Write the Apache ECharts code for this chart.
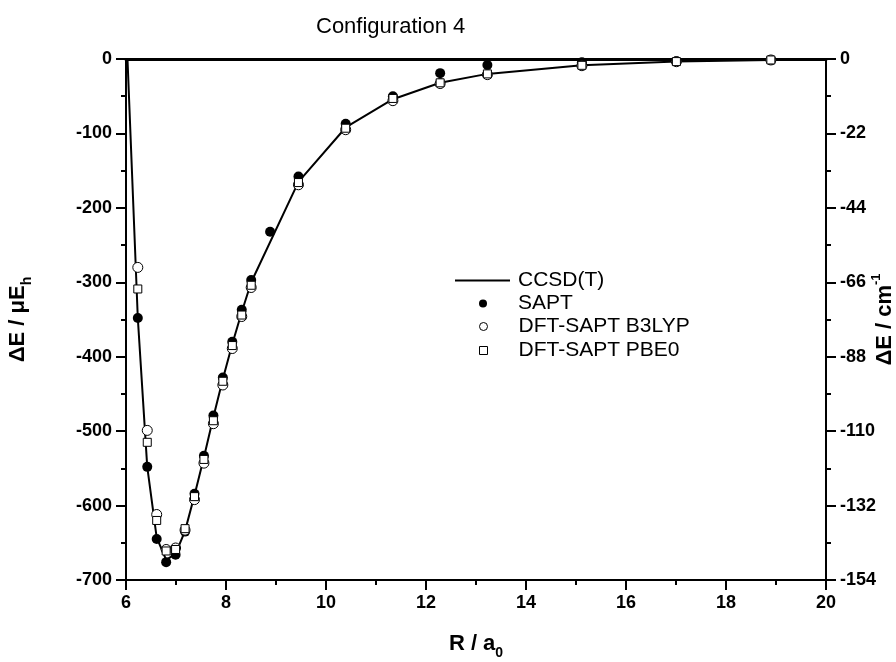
<!DOCTYPE html>
<html>
<head>
<meta charset="utf-8">
<script src="https://cdn.jsdelivr.net/npm/echarts@6/dist/echarts.min.js"></script>
<style>html,body{margin:0;padding:0;background:#fff}#c{width:896px;height:662px}</style>
</head>
<body>
<div id="c"></div>
<script>
// Distances R / a0
const rLine = [6.0, 6.236, 6.425, 6.614, 6.803, 6.992, 7.181, 7.370, 7.559, 7.748, 7.937, 8.126, 8.315, 8.504, 9.449, 10.394, 11.338, 12.283, 13.228, 15.118, 17.008, 18.897, 20.0];
const ccsdt = [50, -348, -548, -643, -673, -665, -634, -586, -535, -481, -430, -383, -340, -300, -165, -92, -54, -32, -20, -8.5, -3.5, -1.5, -0.8];

const rSapt = [6.236, 6.425, 6.614, 6.803, 6.992, 7.181, 7.370, 7.559, 7.748, 7.937, 8.126, 8.315, 8.504, 8.882, 9.449, 10.394, 11.338, 12.283, 13.228, 15.118, 17.008, 18.897];
const sapt = [-348, -548, -645, -676, -666, -635, -584, -533, -479, -428, -380, -337, -297, -232, -158, -87, -50, -19, -8, -4.5, -3, -1.5];

const rDft = [6.236, 6.425, 6.614, 6.803, 6.992, 7.181, 7.370, 7.559, 7.748, 7.937, 8.126, 8.315, 8.504, 9.449, 10.394, 11.338, 12.283, 13.228, 15.118, 17.008, 18.897];
const b3lyp = [-280, -499, -612, -659, -657, -633, -592, -543, -490, -438, -389, -346, -307, -169, -95, -56, -33, -21, -9, -3.6, -1.3];
const pbe0 = [-309, -515, -620, -661, -659, -631, -588, -538, -486, -433, -385, -344, -304, -166, -93, -53, -32, -20, -8.5, -3.5, -1.3];

const seriesNames = ['CCSD(T)', 'SAPT', 'DFT-SAPT B3LYP', 'DFT-SAPT PBE0'];
const titleText = 'Configuration 4';

function pairs(xs, ys) { return xs.map((x, i) => [x, ys[i]]); }

const FF = '"Liberation Sans", Arial, sans-serif';
const axisLineStyle = { color: '#000', width: 2 };
const tickStyle = { color: '#000', width: 2 };
const labelStyle = { fontFamily: FF, fontSize: 18, fontWeight: 'bold', color: '#000', margin: 14 };

const chart = echarts.init(document.getElementById('c'), null, { renderer: 'canvas' });

function legendFor(name, left, top, w, h, padLeft, icon, itemStyle) {
  const d = { name: name, icon: icon };
  if (itemStyle) d.itemStyle = itemStyle;
  return {
    data: [d], left: left, top: top, padding: 0, itemWidth: w, itemHeight: h,
    selectedMode: false,
    textStyle: { fontFamily: FF, fontSize: 21, color: '#000', padding: [0, 0, 0, padLeft] }
  };
}

chart.setOption({
  animation: false,
  backgroundColor: '#fff',
  title: {
    text: titleText, left: 316, top: 16, padding: 0,
    textStyle: { fontFamily: FF, fontSize: 22, fontWeight: 'normal', color: '#000' }
  },
  legend: [
    legendFor(seriesNames[0], 455, 270, 55, 2, 3, 'rect', { color: '#000', borderWidth: 0 }),
    legendFor(seriesNames[1], 479, 293, 8, 8, 26, 'circle', { color: '#000', borderColor: '#000', borderWidth: 0 }),
    legendFor(seriesNames[2], 479, 316, 8, 8, 26, 'circle', { color: '#fff', borderColor: '#000', borderWidth: 1 }),
    legendFor(seriesNames[3], 479, 340, 8, 8, 26, 'rect', { color: '#fff', borderColor: '#000', borderWidth: 1 })
  ],
  grid: { left: 126, right: 70, top: 59, bottom: 82, outerBoundsMode: 'none', containLabel: false },
  xAxis: [{
    type: 'value', min: 6, max: 20, interval: 2, position: 'bottom',
    name: '{a|R / a}{s|0}', nameLocation: 'middle', nameGap: 48, nameMoveOverlap: false,
    nameTextStyle: {
      rich: {
        a: { fontFamily: FF, fontSize: 22, fontWeight: 'bold', color: '#000' },
        s: { fontFamily: FF, fontSize: 14, fontWeight: 'bold', color: '#000', padding: [18, 0, 0, 0] }
      }
    },
    axisLine: { onZero: false, lineStyle: axisLineStyle },
    axisTick: { show: true, inside: false, length: 10, lineStyle: tickStyle },
    minorTick: { show: true, splitNumber: 2, length: 5, lineStyle: tickStyle },
    axisLabel: labelStyle,
    splitLine: { show: false }
  }, {
    type: 'value', min: 6, max: 20, interval: 2, position: 'top',
    axisLine: { onZero: false, lineStyle: { color: '#000', width: 3 } },
    axisTick: { show: false }, axisLabel: { show: false }, splitLine: { show: false }
  }],
  yAxis: [{
    type: 'value', min: -700, max: 0, interval: 100, position: 'left',
    name: '{a|ΔE / μE}{s|h}', nameLocation: 'middle', nameGap: 92, nameRotate: 90, nameMoveOverlap: false,
    nameTextStyle: {
      rich: {
        a: { fontFamily: FF, fontSize: 22, fontWeight: 'bold', color: '#000' },
        s: { fontFamily: FF, fontSize: 14, fontWeight: 'bold', color: '#000', padding: [18, 0, 0, 0] }
      }
    },
    axisLine: { show: true, onZero: false, lineStyle: axisLineStyle },
    axisTick: { show: true, inside: false, length: 10, lineStyle: tickStyle },
    minorTick: { show: true, splitNumber: 2, length: 5, lineStyle: tickStyle },
    axisLabel: labelStyle,
    splitLine: { show: false }
  }, {
    type: 'value', min: -154, max: 0, interval: 22, position: 'right',
    name: '{a|ΔE / cm}{s|-1}', nameLocation: 'middle', nameGap: 44, nameRotate: 90, nameMoveOverlap: false,
    nameTextStyle: {
      rich: {
        a: { fontFamily: FF, fontSize: 22, fontWeight: 'bold', color: '#000' },
        s: { fontFamily: FF, fontSize: 13, fontWeight: 'bold', color: '#000', padding: [0, 0, 16, 0] }
      }
    },
    axisLine: { show: true, onZero: false, lineStyle: axisLineStyle },
    axisTick: { show: true, inside: false, length: 10, lineStyle: tickStyle },
    minorTick: { show: true, splitNumber: 2, length: 5, lineStyle: tickStyle },
    axisLabel: labelStyle,
    splitLine: { show: false }
  }],
  series: [{
    name: seriesNames[0], type: 'line', data: pairs(rLine, ccsdt),
    symbol: 'none', showSymbol: false, clip: true, z: 2,
    lineStyle: { color: '#000', width: 2 }, itemStyle: { color: '#000' }
  }, {
    name: seriesNames[1], type: 'scatter', data: pairs(rSapt, sapt),
    symbol: 'circle', symbolSize: 10, z: 3,
    itemStyle: { color: '#000', borderColor: '#000', borderWidth: 0, opacity: 1 }
  }, {
    name: seriesNames[2], type: 'scatter', data: pairs(rDft, b3lyp),
    symbol: 'circle', symbolSize: 10, z: 4,
    itemStyle: { color: '#fff', borderColor: '#000', borderWidth: 1, opacity: 1 }
  }, {
    name: seriesNames[3], type: 'scatter', data: pairs(rDft, pbe0),
    symbol: 'rect', symbolSize: 8, z: 5,
    itemStyle: { color: '#fff', borderColor: '#000', borderWidth: 1, opacity: 1 }
  }]
});
</script>
</body>
</html>
